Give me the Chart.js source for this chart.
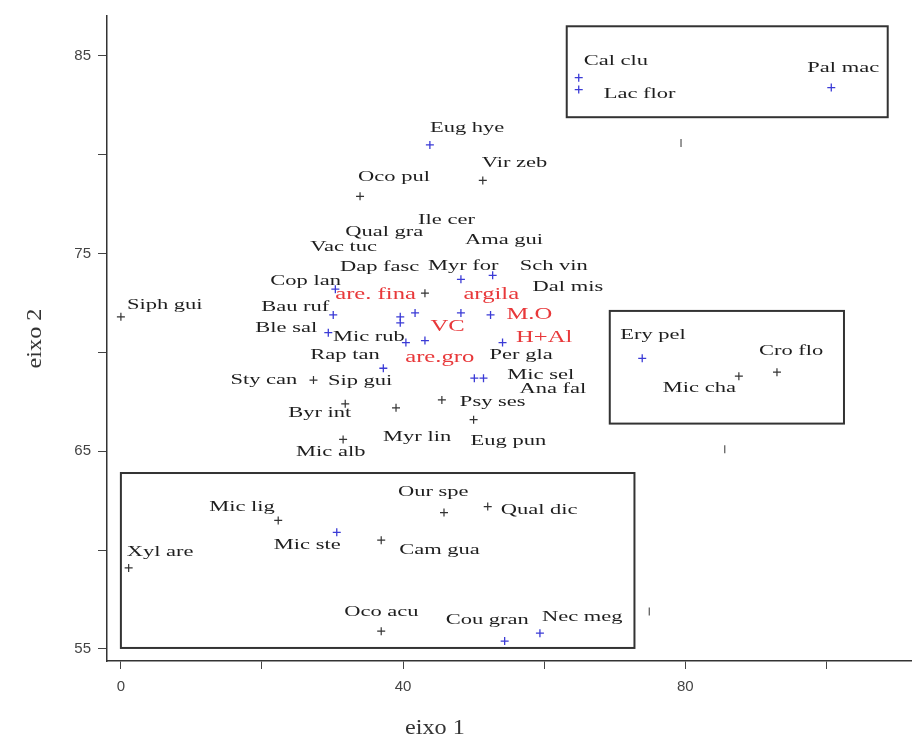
<!DOCTYPE html>
<html>
<head>
<meta charset="utf-8">
<script src="https://cdn.jsdelivr.net/npm/chart.js@4"></script>
<style>
  body { margin: 0; background: #fff; }
  #wrap { width: 917px; height: 748px; position: relative; }
</style>
</head>
<body>
<div id="wrap"><canvas id="ordChart"></canvas></div>
<script>
// espécies (eixo 1, eixo 2) e cor do marcador: b = azul, k = preto
const species = ['Cal clu', 'Lac flor', 'Pal mac', 'Eug hye', 'Vir zeb', 'Oco pul', 'Myr for', 'Sch vin',
  'Cop lan', 'Bau ruf', 'Ble sal', 'Mic rub', 'Rap tan', 'Sty can', 'Sip gui', 'Byr int', 'Mic alb',
  'Psy ses', 'Eug pun', 'Myr lin', 'Mic sel', 'Ana fal', 'Per gla', 'Dal mis', 'Ile cer', 'Qual gra',
  'Vac tuc', 'Dap fasc', 'Ama gui', 'Siph gui', 'Ery pel', 'Cro flo', 'Mic cha', 'Mic lig', 'Our spe',
  'Qual dic', 'Xyl are', 'Mic ste', 'Cam gua', 'Oco acu', 'Cou gran', 'Nec meg'];
const eixo1 = [64.9, 64.9, 100.7, 43.8, 51.3, 33.9, 48.2, 52.7,
  30.4, 30.1, 29.4, 40.4, 37.2, 27.3, 43.1, 31.8, 31.5,
  45.5, 50.0, 39.0, 50.1, 51.4, 54.1, 52.4, 41.7, 39.6,
  39.6, 43.1, 48.2, 0.0, 73.9, 93.0, 87.6, 22.3, 45.8,
  52.0, 1.1, 30.6, 36.9, 36.9, 54.4, 59.4];
const eixo2 = [83.9, 83.3, 83.4, 80.5, 78.7, 77.9, 73.7, 73.9,
  73.2, 71.9, 71.0, 70.5, 69.2, 68.6, 70.6, 67.4, 65.6,
  67.6, 66.6, 67.2, 68.7, 68.7, 70.5, 71.9, 72.0, 71.8,
  71.5, 73.0, 72.0, 71.8, 69.7, 69.0, 68.8, 61.5, 61.9,
  62.2, 59.1, 60.9, 60.5, 55.9, 55.4, 55.8];
const grupo = ['b', 'b', 'b', 'b', 'k', 'k', 'b', 'b',
  'b', 'b', 'b', 'b', 'b', 'k', 'b', 'k', 'k',
  'k', 'k', 'k', 'b', 'b', 'b', 'b', 'b', 'b',
  'b', 'k', 'b', 'k', 'b', 'k', 'k', 'k', 'k',
  'k', 'k', 'b', 'k', 'k', 'b', 'b'];

// variáveis ambientais (texto vermelho)
const varNames = ['are. fina', 'argila', 'M.O', 'VC', 'H+Al', 'are.gro'];
const varX = [36.1, 52.5, 57.9, 46.3, 60.0, 45.2];
const varY = [72.93, 72.93, 71.92, 71.31, 70.76, 69.75];

// marcas soltas sem rótulo
const outrosX = [79.4, 85.6, 74.9];
const outrosY = [80.6, 65.1, 56.9];

// grupos destacados: [x1, x2, y1, y2]
const grupos = [[63.2, 108.7, 81.9, 86.5], [69.3, 102.5, 66.4, 72.1], [0, 72.8, 55.05, 63.9]];

const xTicks = [0, 40, 80];
const yTicks = [55, 65, 75, 85];

// deslocamento do rótulo em px
const labelOffset = {
  'Cal clu': [5, -17], 'Lac flor': [25, 5], 'Pal mac': [-24, -19], 'Eug hye': [0, -17],
  'Vir zeb': [-1, -17], 'Oco pul': [-2, -19], 'Myr for': [-33, -13], 'Sch vin': [27, -9],
  'Cop lan': [-65, -8], 'Bau ruf': [-72, -8], 'Ble sal': [-73, -5], 'Mic rub': [-73, -5],
  'Rap tan': [-73, -13], 'Sty can': [-83, 0], 'Sip gui': [-97, 40], 'Byr int': [-57, 9],
  'Mic alb': [-47, 13], 'Psy ses': [18, 2], 'Eug pun': [-3, 21], 'Myr lin': [-13, 29],
  'Mic sel': [33, -3], 'Ana fal': [36, 11], 'Per gla': [-13, 13], 'Dal mis': [42, -28],
  'Ile cer': [3, -93], 'Qual gra': [-55, -85], 'Vac tuc': [-90, -76], 'Dap fasc': [-85, -26],
  'Ama gui': [4, -73], 'Siph gui': [6, -12], 'Ery pel': [-22, -23], 'Cro flo': [-18, -21],
  'Mic cha': [-76, 12], 'Mic lig': [-69, -13], 'Our spe': [-46, -20], 'Qual dic': [13, 3],
  'Xyl are': [-2, -16], 'Mic ste': [-63, 13], 'Cam gua': [18, 10], 'Oco acu': [-37, -19],
  'Cou gran': [-59, -21], 'Nec meg': [2, -16]
};

const SERIF = '"Liberation Serif", "DejaVu Serif", serif';

function pts(g) {
  const out = [];
  species.forEach((s, i) => { if (grupo[i] === g) out.push({ x: eixo1[i], y: eixo2[i] }); });
  return out;
}

function stretchText(ctx, txt, x, y, sx) {
  ctx.save();
  ctx.translate(x, y);
  ctx.scale(sx, 1);
  ctx.fillText(txt, 0, 0);
  ctx.restore();
}

const annotPlugin = {
  id: 'annot',
  afterDatasetsDraw(chart) {
    const ctx = chart.ctx;
    const xs = chart.scales.x, ys = chart.scales.y;
    ctx.save();
    // caixas
    ctx.strokeStyle = '#333';
    ctx.lineWidth = 2;
    grupos.forEach(b => {
      const x1 = xs.getPixelForValue(b[0]), x2 = xs.getPixelForValue(b[1]);
      const y1 = ys.getPixelForValue(b[2]), y2 = ys.getPixelForValue(b[3]);
      ctx.strokeRect(x1, y2, x2 - x1, y1 - y2);
    });
    // rótulos das espécies
    ctx.fillStyle = '#1e1e1e';
    ctx.font = '15px ' + SERIF;
    ctx.textAlign = 'left';
    ctx.textBaseline = 'middle';
    species.forEach((s, i) => {
      const off = labelOffset[s] || [4, -12];
      stretchText(ctx, s, xs.getPixelForValue(eixo1[i]) + off[0], ys.getPixelForValue(eixo2[i]) + off[1], 1.5);
    });
    // variáveis ambientais
    ctx.fillStyle = '#e8383a';
    ctx.font = '17px ' + SERIF;
    ctx.textAlign = 'center';
    varNames.forEach((v, i) => {
      stretchText(ctx, v, xs.getPixelForValue(varX[i]), ys.getPixelForValue(varY[i]), 1.45);
    });
    // títulos dos eixos
    ctx.fillStyle = '#333';
    ctx.font = '22px ' + SERIF;
    ctx.textAlign = 'center';
    stretchText(ctx, 'eixo 1', xs.getPixelForValue(44.5), 728, 1.1);
    ctx.save();
    ctx.translate(35, (chart.chartArea.top + chart.chartArea.bottom) / 2);
    ctx.rotate(-Math.PI / 2);
    stretchText(ctx, 'eixo 2', 0, 0, 1.1);
    ctx.restore();
    ctx.restore();
  }
};

const ctx = document.getElementById('ordChart').getContext('2d');
const ordChart = new Chart(ctx, {
  type: 'scatter',
  data: {
    datasets: [{
      label: 'azul',
      data: pts('b'),
      pointStyle: 'cross',
      pointRadius: 4,
      borderWidth: 1.3,
      borderColor: '#3b3bd6',
      backgroundColor: '#3b3bd6'
    }, {
      label: 'preto',
      data: pts('k'),
      pointStyle: 'cross',
      pointRadius: 4,
      borderWidth: 1.2,
      borderColor: '#333',
      backgroundColor: '#333'
    }, {
      label: 'outros',
      data: outrosX.map((x, i) => ({ x: x, y: outrosY[i] })),
      pointStyle: 'line',
      rotation: 90,
      pointRadius: 4,
      borderWidth: 1.2,
      borderColor: '#555'
    }]
  },
  options: {
    responsive: true,
    maintainAspectRatio: false,
    animation: false,
    layout: { padding: { top: 15, right: 0, left: 0, bottom: 0 } },
    plugins: {
      legend: { display: false },
      tooltip: { enabled: false }
    },
    scales: {
      x: {
        type: 'linear',
        min: -1.97,
        max: 112.1,
        afterFit: s => { s.height = 87; },
        border: { display: true, color: '#333', width: 1.5 },
        grid: { drawOnChartArea: false, drawTicks: true, tickLength: 8, color: '#444' },
        ticks: {
          stepSize: 20,
          includeBounds: false,
          padding: 9,
          color: '#444',
          font: { family: '"Liberation Sans", sans-serif', size: 15 },
          callback: v => (xTicks.includes(v) ? String(v) : '')
        }
      },
      y: {
        type: 'linear',
        min: 54.39,
        max: 87.02,
        afterFit: s => { s.width = 107; },
        border: { display: true, color: '#333', width: 1.5 },
        grid: { drawOnChartArea: false, drawTicks: true, tickLength: 9, color: '#444' },
        ticks: {
          stepSize: 5,
          includeBounds: false,
          padding: 7,
          color: '#444',
          font: { family: '"Liberation Sans", sans-serif', size: 15 },
          callback: v => (yTicks.includes(v) ? String(v) : '')
        }
      }
    }
  },
  plugins: [annotPlugin]
});
</script>
</body>
</html>
